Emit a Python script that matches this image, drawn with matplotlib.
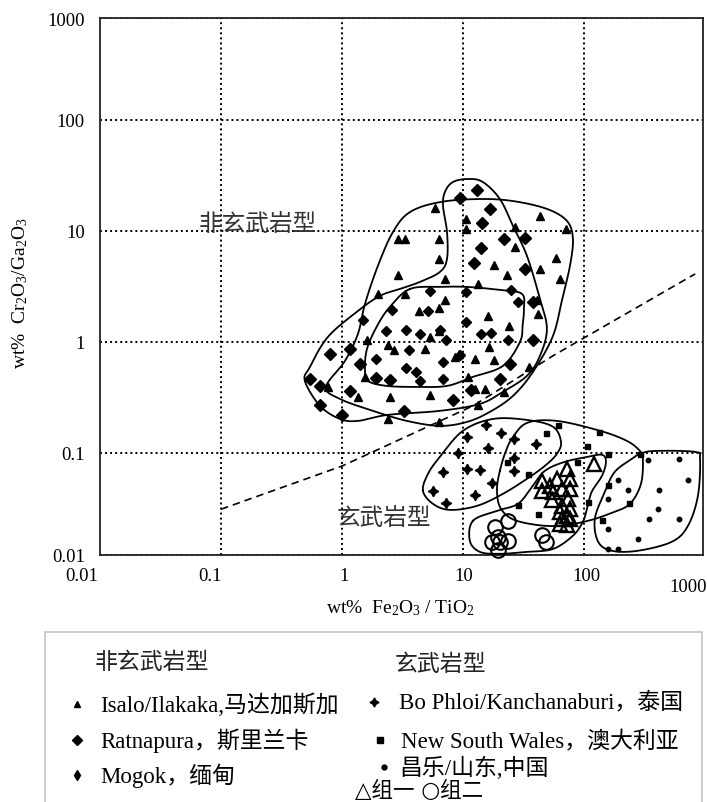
import numpy as np
import matplotlib
matplotlib.use('Agg')
import matplotlib.pyplot as plt
from matplotlib.lines import Line2D
from matplotlib.patches import Rectangle

plt.rcParams['font.family'] = ['Liberation Serif', 'Noto Sans CJK SC']
plt.rcParams['mathtext.fontset'] = 'custom'
plt.rcParams['mathtext.rm'] = 'Liberation Serif'
plt.rcParams['mathtext.it'] = 'Liberation Serif:italic'

# ---- sample points (Fe2O3/TiO2, Cr2O3/Ga2O3) ----
isalo_x = [5.9, 10.6, 10.6, 27, 43, 71, 2.9, 3.3, 6.3, 6.3, 27, 59, 43, 18, 23, 2.9, 63,
           7.1, 13.4, 2.0, 3.3, 7.1, 41, 4.3, 6.3, 16, 24, 42, 6.3, 5.3, 2.4, 2.7, 4.9, 1.6,
           16.5, 8.6, 9.2, 12.6, 18, 35, 1.55, 11, 12.6, 15.2, 2.5, 5.3, 1.36, 22, 13.4, 2.4,
           6.3, 0.77]
isalo_y = [16, 12.8, 10.4, 10.9, 13.7, 10.4, 8.5, 8.5, 8.5, 5.6, 7.1, 5.7, 4.5, 4.9, 4.0, 4.0,
           3.7, 3.7, 3.3, 2.7, 2.7, 2.4, 2.4, 1.9, 2.0, 1.7, 1.4, 1.8, 1.26, 1.1, 0.93, 0.85,
           0.86, 1.05, 0.9, 0.73, 0.78, 0.70, 0.68, 0.59, 0.48, 0.48, 0.38, 0.38, 0.32, 0.33,
           0.32, 0.35, 0.27, 0.20, 0.19, 0.39]

ratna_x = [13.1, 9.4, 16.6, 14.3, 21.9, 32.5, 14, 12.4, 32.5, 38, 38, 0.80, 1.16, 0.54, 0.66,
           1.16, 0.66, 1.0, 1.4, 1.9, 2.5, 3.25, 8.3, 24.4, 20.2, 11.6]
ratna_y = [23.6, 19.7, 15.8, 11.8, 8.5, 8.6, 7.0, 5.1, 4.5, 2.3, 1.05, 0.78, 0.87, 0.46, 0.40,
           0.36, 0.27, 0.22, 0.63, 0.47, 0.45, 0.24, 0.30, 0.63, 0.46, 0.37]

mogok_x = [5.3, 10.6, 24.8, 28.7, 5.1, 2.6, 1.48, 10.6, 2.3, 3.4, 6.5, 4.4, 7.3, 14, 16.9,
           23.4, 3.6, 9.4, 1.9, 6.9, 3.4, 4.1, 4.4, 6.9]
mogok_y = [2.9, 2.8, 2.96, 2.3, 1.9, 1.95, 1.59, 1.52, 1.26, 1.29, 1.29, 1.18, 1.05, 1.18, 1.2,
           1.03, 0.85, 0.76, 0.70, 0.66, 0.58, 0.54, 0.44, 0.46]

bophloi_x = [15.5, 10.9, 20.6, 26.5, 40, 16.2, 9.1, 26.5, 10.7, 13.8, 26.5, 6.9, 17.3, 5.7,
             12.6, 7.2]
bophloi_y = [0.18, 0.14, 0.151, 0.134, 0.12, 0.111, 0.10, 0.0895, 0.072, 0.070, 0.069, 0.067,
             0.053, 0.045, 0.042, 0.035]

nsw_x = [61, 49, 134, 106, 159, 290, 23, 88, 34.7, 159, 28.3, 42, 109, 235, 140]
nsw_y = [0.18, 0.151, 0.154, 0.116, 0.098, 0.098, 0.082, 0.082, 0.065, 0.0515, 0.034, 0.028,
         0.036, 0.035, 0.025]

changle_x = [340, 610, 192, 728, 232, 417, 159, 411, 344, 614, 159, 278, 159, 192]
changle_y = [0.087, 0.088, 0.0575, 0.0575, 0.0467, 0.0467, 0.038, 0.031, 0.0254, 0.0252,
             0.0204, 0.0166, 0.0137, 0.0137]

group1_x = [122, 71.9, 59.5, 76.6, 44.7, 52.4, 65.4, 76.6, 44.7, 55.7, 74.1, 54.1, 65.4, 76.6,
            63.4, 71.9, 65.4, 76.6, 63.4, 71.9]
group1_y = [0.0796, 0.0718, 0.0583, 0.0583, 0.0563, 0.0507, 0.0474, 0.0474, 0.0457, 0.0442,
            0.0385, 0.0372, 0.0335, 0.0313, 0.0292, 0.0272, 0.0254, 0.0254, 0.0229, 0.0225]

group2_x = [23.7, 18.4, 17.3, 20.2, 23.7, 19.6, 19.6, 44.7, 48.5]
group2_y = [0.0245, 0.0214, 0.0157, 0.0157, 0.0162, 0.0132, 0.0175, 0.018, 0.0157]

# ---- field outlines (closed, smoothed in log space) ----
isalo_env_x = [0.738, 1.06, 1.355, 1.55, 1.98, 2.64, 3.65, 6.45, 13.8, 25.9, 49.4, 72.4, 81.1,
               76.6, 67, 55.4, 37.9, 25.9, 16.7, 10.8, 6.45, 3.44, 1.80, 0.963]
isalo_env_y = [0.393, 0.675, 1.18, 2.2, 4.84, 9.8, 14.8, 18.2, 19.4, 18.6, 15.8, 12.3, 8.47,
               4.84, 2.6, 1.13, 0.537, 0.326, 0.234, 0.19, 0.175, 0.194, 0.239, 0.306]

ratna_env_x = [0.494, 0.544, 0.766, 1.355, 2.06, 3.01, 4.41, 6.45, 7.38, 7.38, 6.84, 7.1, 8.26,
               11.0, 14.6, 20.2, 25.9, 33.8, 43.3, 49.4, 43.3, 33.8, 21.4, 13.8, 6.45, 2.40,
               1.355, 0.963, 0.658]
ratna_env_y = [0.445, 0.595, 1.11, 1.9, 2.6, 3.0, 3.47, 4.27, 5.6, 9.8, 16.8, 22.5, 27.6, 29.4,
               27.6, 19.4, 11.1, 5.96, 2.44, 1.31, 0.748, 0.494, 0.355, 0.276, 0.239, 0.22,
               0.194, 0.202, 0.265]

mogok_env_x = [3.65, 6.45, 10.8, 20.2, 30.7, 31.9, 31.2, 29.6, 21.4, 12.1, 7.38, 4.17, 2.35,
               1.64, 1.55, 1.61, 1.95, 2.49]
mogok_env_y = [3.0, 3.13, 3.13, 2.94, 2.71, 1.98, 1.45, 1.0, 0.608, 0.484, 0.401, 0.393, 0.401,
               0.445, 0.571, 0.865, 1.39, 2.07]

bophloi_env_x = [4.67, 5.14, 6.45, 10, 17.7, 33.8, 55.4, 64.6, 59.8, 47.6, 33.8, 21.4, 13.1,
                 7.81, 5.65]
bophloi_env_y = [0.0455, 0.0647, 0.092, 0.158, 0.202, 0.198, 0.172, 0.126, 0.098, 0.0764,
                 0.0583, 0.0427, 0.0333, 0.0306, 0.0347]

nsw_env_x = [20.2, 22.2, 25.4, 33.8, 59.8, 136, 227, 290, 307, 296, 240, 170, 108, 63.4, 39.4,
             25.4, 20.2, 19.1]
nsw_env_y = [0.0689, 0.098, 0.134, 0.186, 0.194, 0.158, 0.128, 0.104, 0.0883, 0.0526, 0.0347,
             0.0288, 0.0244, 0.022, 0.0225, 0.0254, 0.0326, 0.0474]

changle_env_x = [290, 386, 827, 910, 875, 724, 533, 279, 170, 131, 123, 149, 180, 249]
changle_env_y = [0.098, 0.104, 0.102, 0.0883, 0.041, 0.022, 0.0158, 0.0131, 0.0131, 0.0158,
                 0.0254, 0.0446, 0.0675, 0.0883]

group_env_x = [12.1, 19.1, 28.5, 37.2, 47.6, 69.6, 108, 141, 152, 141, 116, 106, 98, 81.1,
               55.4, 33.8, 20.2, 13.8, 11.4]
group_env_y = [0.0244, 0.030, 0.0347, 0.0494, 0.0689, 0.083, 0.092, 0.096, 0.083, 0.0621,
               0.0446, 0.0313, 0.0239, 0.0179, 0.0136, 0.0128, 0.0123, 0.0128, 0.0161]

# basalt / non-basalt divide
divide_x = [0.1, 1.0, 12.1, 55.5, 830]
divide_y = [0.031, 0.076, 0.265, 0.75, 4.1]

xtick_vals = [0.1, 1, 10, 100]
ytick_vals = [0.012, 0.1, 1, 10, 100, 830]
ytick_labels = ['0.01', '0.1', '1', '10', '100', '1000']
xtick_labels = ['0.01', '0.1', '1', '10', '100', '1000']


def smooth_closed(xs, ys, n=20):
    """Closed Catmull-Rom curve through the outline points, in log-log space."""
    pts = np.column_stack([np.log10(xs), np.log10(ys)])
    m = len(pts)
    t = np.linspace(0, 1, n, endpoint=False)[:, None]
    segs = []
    for i in range(m):
        p0, p1, p2, p3 = pts[i - 1], pts[i], pts[(i + 1) % m], pts[(i + 2) % m]
        segs.append(0.5 * (2 * p1 + (-p0 + p2) * t + (2 * p0 - 5 * p1 + 4 * p2 - p3) * t ** 2
                           + (-p0 + 3 * p1 - 3 * p2 + p3) * t ** 3))
    segs.append(pts[:1])
    arr = np.vstack(segs)
    return 10 ** arr[:, 0], 10 ** arr[:, 1]


fig = plt.figure(figsize=(7.07, 8.03), dpi=100)
ax = fig.add_axes([0.1414, 0.3076, 0.8529, 0.6687])
ax.set_xscale('log')
ax.set_yscale('log')
ax.set_xlim(0.01, 963)
ax.set_ylim(0.012, 830)
ax.minorticks_off()
ax.set_xticks(xtick_vals)
ax.set_xticklabels([])
ax.set_yticks(ytick_vals)
ax.set_yticklabels(ytick_labels)
ax.tick_params(length=0, labelsize=13.5, pad=11)
ax.grid(True, color='black', linestyle=(0, (1, 1.6)), linewidth=1.4)
for s in ax.spines.values():
    s.set_color('#222222')
    s.set_linewidth(1.3)

# x tick labels sit a little off the grid lines
xlab_pos = [0.0070, 0.081, 1.04, 10.2, 104, 724]
xlab_off = [-0.039, -0.039, -0.039, -0.039, -0.039, -0.058]
tr = ax.get_xaxis_transform()
for v, lab, dy in zip(xlab_pos, xtick_labels, xlab_off):
    ax.text(v, dy, lab, transform=tr, ha='center', va='center', fontsize=13.5, clip_on=False)

# field outlines
for ex, ey in [(isalo_env_x, isalo_env_y), (ratna_env_x, ratna_env_y),
               (mogok_env_x, mogok_env_y), (bophloi_env_x, bophloi_env_y),
               (nsw_env_x, nsw_env_y), (changle_env_x, changle_env_y),
               (group_env_x, group_env_y)]:
    cx, cy = smooth_closed(ex, ey)
    ax.plot(cx, cy, color='black', lw=1.3, zorder=3)

ax.plot(divide_x, divide_y, color='black', lw=1.2, linestyle=(0, (4.5, 3)), zorder=3)

# samples
star4 = (4, 1, 0)
ax.plot(isalo_x, isalo_y, ls='none', marker='^', ms=6, color='black', zorder=4)
ax.plot(ratna_x, ratna_y, ls='none', marker='D', ms=5.8, color='black', zorder=4)
ax.plot(mogok_x, mogok_y, ls='none', marker='D', ms=5.6, color='black', zorder=4)
ax.plot(bophloi_x, bophloi_y, ls='none', marker=star4, ms=7.5, color='black', zorder=4)
ax.plot(nsw_x, nsw_y, ls='none', marker='s', ms=3.6, color='black', zorder=4)
ax.plot(changle_x, changle_y, ls='none', marker='o', ms=3.2, color='black', zorder=4)
ax.plot(group1_x, group1_y, ls='none', marker='^', ms=10.5, mfc='none', mec='black', mew=1.7,
        zorder=5)
ax.plot(group2_x, group2_y, ls='none', marker='o', ms=10.5, mfc='none', mec='black', mew=1.5,
        zorder=5, clip_on=False)

ax.text(0.202, 11.6, '非玄武岩型', fontsize=17, color='#333333', ha='center', va='center',
        family='Noto Sans CJK SC', fontweight='light', zorder=6)
ax.text(2.22, 0.026, '玄武岩型', fontsize=17, color='#333333', ha='center', va='center',
        family='Noto Sans CJK SC', fontweight='light', zorder=6)

fig.text(400 / 707, 1 - 608 / 803, r'wt%  $\mathrm{Fe_2O_3\ /\ TiO_2}$', fontsize=14,
         ha='center', va='center')
fig.text(20 / 707, 1 - 293 / 803, r'wt%  $\mathrm{Cr_2O_3/Ga_2O_3}$', fontsize=14,
         ha='center', va='center', rotation=90)

# legend panel
fig.add_artist(Rectangle((45 / 707, -0.01), 657 / 707, 170 / 803 + 0.01,
                         transform=fig.transFigure, fill=False, edgecolor='#c8c8c8', lw=1.3))


def px(x, y):
    return x / 707, 1 - y / 803


legend_rows = [
    ('^', 5, 'Isalo/Ilakaka,马达加斯加', 77, 100, 705),
    ('D', 5, 'Ratnapura，斯里兰卡', 77, 100, 741),
    ('d', 5.5, 'Mogok，缅甸', 77, 100, 776),
    (star4, 6.5, 'Bo Phloi/Kanchanaburi，泰国', 374, 399, 703),
    ('s', 4, 'New South Wales，澳大利亚', 380, 401, 741),
    ('o', 3.5, '昌乐/山东,中国', 384, 399, 768),
]
for mk, ms, lab, xm, xt, y in legend_rows:
    fig.add_artist(Line2D([xm / 707], [1 - y / 803], transform=fig.transFigure, marker=mk,
                          ms=ms, color='black', ls='none'))
    fig.text(*px(xt, y), lab, fontsize=16.5, ha='left', va='center')

fig.text(*px(95, 663), '非玄武岩型', fontsize=16.5, ha='left', va='center', color='#222222',
         family='Noto Sans CJK SC', fontweight='light')
fig.text(*px(395, 665), '玄武岩型', fontsize=16.5, ha='left', va='center', color='#222222',
         family='Noto Sans CJK SC', fontweight='light')
fig.text(*px(355, 790), '△组一 ○组二', fontsize=15.5, ha='left', va='center',
         family=['DejaVu Sans', 'Noto Sans CJK SC'])

fig.savefig('out.png', dpi=100)
